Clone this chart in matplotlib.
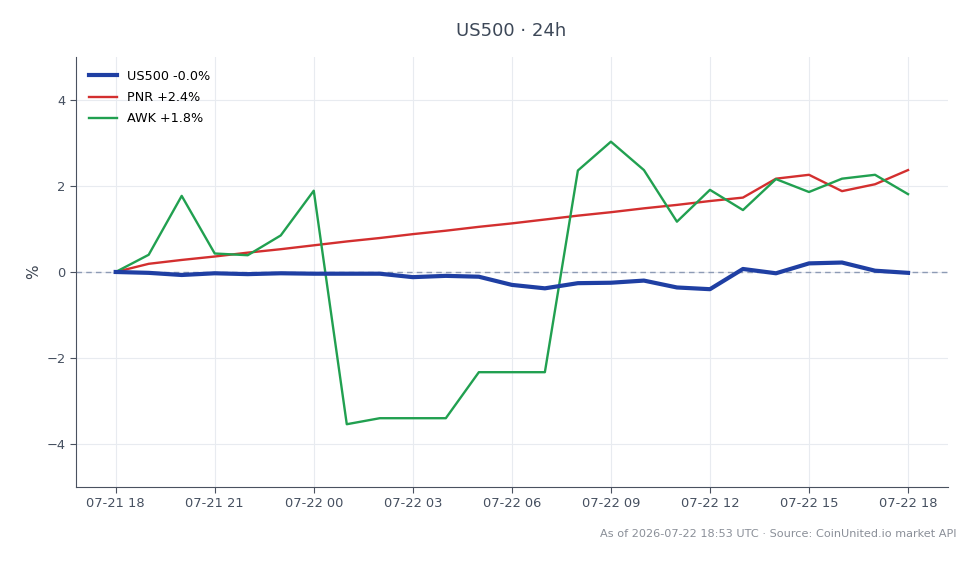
import numpy as np
import pandas as pd
import matplotlib
matplotlib.use("Agg")
import matplotlib.pyplot as plt
import matplotlib.dates as mdates

# hourly % change over the last 24h
times = pd.date_range("2026-07-21 18:00", "2026-07-22 18:00", freq="h")

us500 = [0.00, -0.02, -0.07, -0.03, -0.05, -0.03, -0.04, -0.04, -0.04, -0.12,
         -0.09, -0.11, -0.30, -0.38, -0.26, -0.25, -0.20, -0.36, -0.40, 0.07,
         -0.03, 0.20, 0.22, 0.03, -0.02]
pnr = [0.00, 0.19, 0.28, 0.36, 0.45, 0.53, 0.62, 0.71, 0.79, 0.88,
       0.96, 1.05, 1.13, 1.22, 1.31, 1.39, 1.48, 1.56, 1.65, 1.73,
       2.17, 2.26, 1.88, 2.04, 2.37]
awk = [0.00, 0.40, 1.77, 0.43, 0.39, 0.85, 1.89, -3.54, -3.40, -3.40,
       -3.40, -2.33, -2.33, -2.33, 2.36, 3.03, 2.37, 1.17, 1.91, 1.44,
       2.16, 1.86, 2.17, 2.26, 1.81]

fig = plt.figure(figsize=(9.8, 5.64), dpi=100)
ax = fig.add_axes([0.0776, 0.1365, 0.8894, 0.7625])

ax.axhline(0, color="#8d9bb5", lw=1, ls=(0, (4, 3)), zorder=1)
ax.plot(times, us500, color="#1f3fa3", lw=3, label="US500 -0.0%", zorder=4)
ax.plot(times, pnr, color="#d32f2f", lw=1.7, label="PNR +2.4%", zorder=3)
ax.plot(times, awk, color="#21a050", lw=1.7, label="AWK +1.8%", zorder=3)

ax.set_ylim(-5, 5)
ax.set_yticks([-4, -2, 0, 2, 4])
ax.set_yticklabels(["\u22124", "\u22122", "0", "2", "4"])
ax.xaxis.set_major_locator(mdates.HourLocator(byhour=range(0, 24, 3)))
ax.xaxis.set_major_formatter(mdates.DateFormatter("%m-%d %H"))

ax.grid(True, color="#e8ebf0", lw=0.8)
ax.set_axisbelow(True)
for s in ["top", "right"]:
    ax.spines[s].set_visible(False)
for s in ["left", "bottom"]:
    ax.spines[s].set_color("#4a5260")
ax.tick_params(colors="#4a5260", labelsize=9.4, length=4)
for lab in ax.get_xticklabels() + ax.get_yticklabels():
    lab.set_color("#465060")

ax.set_ylabel("%", fontsize=11, color="#3d4552")
ax.legend(loc="upper left", frameon=False, fontsize=9.2, handlelength=2.2,
          labelspacing=0.65, borderaxespad=0.6)

fig.text(0.522, 0.945, "US500 \u00b7 24h", ha="center", va="center", fontsize=13, color="#3d4858")
fig.text(0.976, 0.053, "As of 2026-07-22 18:53 UTC \u00b7 Source: CoinUnited.io market API",
         ha="right", va="center", fontsize=8.1, color="#8a8f98")

fig.savefig("out.png", dpi=100)
